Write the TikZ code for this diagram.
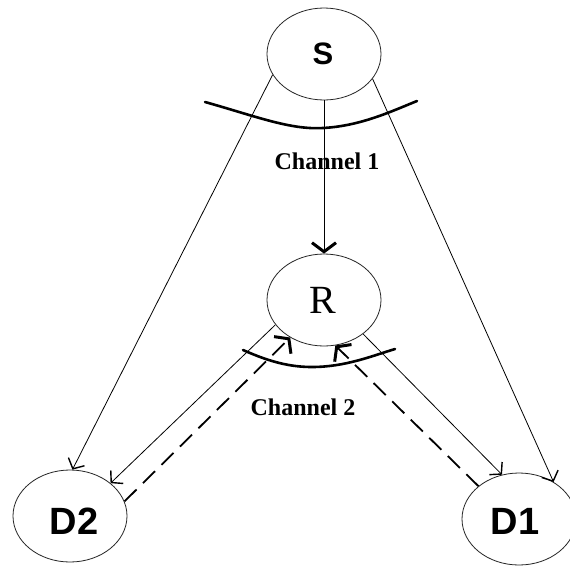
\documentclass[tikz,border=0pt]{standalone}
\usepackage{fontspec}
\setmainfont{Liberation Serif}
\newfontfamily\arialfont{Liberation Sans}
\usetikzlibrary{shapes.geometric,arrows.meta}
\tikzset{
  station/.style={draw=black!85,line width=0.8pt,ellipse,minimum width=114pt,minimum height=92pt,inner sep=0pt},
  sanslabel/.style={font=\arialfont\bfseries\fontsize{38}{38}\selectfont},
  link/.style={line width=0.8pt,-{Straight Barb[length=8pt,width=18pt,line width=1.4pt]}},
  boldtip/.style={-{Straight Barb[length=9pt,width=24pt,line width=3pt]}},
  back/.style={line width=1.8pt,dash pattern=on 17pt off 9pt,boldtip},
  channel/.style={line width=2.6pt,line cap=round},
  chlabel/.style={font=\bfseries\fontsize{24}{24}\selectfont}
}
\begin{document}
\begin{tikzpicture}[x=1pt,y=-1pt]
\useasboundingbox[fill=white] (0,0) rectangle (570,565);
\node[station] (S) at (324,54) {};
\node[font=\arialfont\bfseries\fontsize{31}{31}\selectfont] (St) at (323,54) {S};
\node[station] (R) at (324,300) {};
\node[font=\fontsize{40}{40}\selectfont] (Rt) at (323,300) {R};
\node[station] (D2) at (70,516) {};
\node[sanslabel] (D2t) at (74,521) {D2};
\node[station] (D1) at (519,519) {};
\node[sanslabel] (D1t) at (515,521) {D1};
% channel arcs
\coordinate (c1a) at (205,102);
\coordinate (c1m) at (323,128);
\coordinate (c1b) at (417,101);
\draw[channel] (c1a) .. controls (255,116) and (290,130) .. (c1m) .. controls (360,126) and (390,112) .. (c1b);
\coordinate (c2a) at (243,350);
\coordinate (c2m) at (312,367);
\coordinate (c2b) at (395,349);
\draw[channel] (c2a) .. controls (270,362) and (290,367) .. (c2m) .. controls (345,367) and (372,356) .. (c2b);
\node[chlabel] (ch1) at (327,161) {Channel 1};
\node[chlabel] (ch2) at (303,407) {Channel 2};
% links
\draw[link] (S.202) -- (D2.87);
\draw[link,boldtip] (S.south) -- (R.north);
\draw[link] (S.333) -- (D1.47.5);
\draw[link] (R.207) -- (D2.39);
\draw[back] (D2.15) -- (R.228);
\draw[link] (R.319.5) -- (D1.111);
\draw[back] (D1.141) -- (R.284);
\end{tikzpicture}
\end{document}
